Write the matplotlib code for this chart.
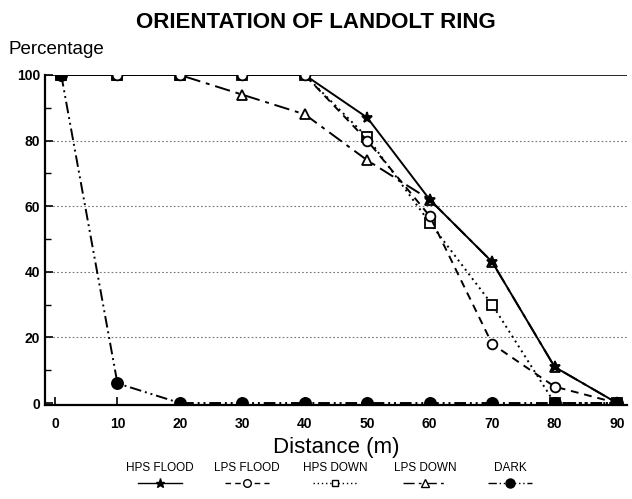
import matplotlib
matplotlib.use("Agg")
import matplotlib.pyplot as plt
from matplotlib.lines import Line2D

# ─── Data ─────────────────────────────────────────────────────────────────────

distance   = [1, 10, 20, 30, 40, 50, 60, 70, 80, 90]
hps_flood  = [100, 100, 100, 100, 100, 87, 62, 43, 11, 0]
lps_flood  = [100, 100, 100, 100, 100, 80, 57, 18, 5, 0]
hps_down   = [100, 100, 100, 100, 100, 81, 55, 30, 0, 0]
lps_down   = [100, 100, 100, 94, 88, 74, 62, 43, 11, 0]
dark       = [100, 6, 0, 0, 0, 0, 0, 0, 0, 0]

series_names = ['HPS FLOOD', 'LPS FLOOD', 'HPS DOWN', 'LPS DOWN', 'DARK']
x_ticks      = [0, 10, 20, 30, 40, 50, 60, 70, 80, 90]
y_ticks      = [0, 20, 40, 60, 80, 100]

# ─── Styles ───────────────────────────────────────────────────────────────────

plt.rcParams['font.family'] = ['Liberation Sans', 'DejaVu Sans']

styles = {
    'HPS FLOOD': dict(ls='-',                     marker='*', mfc='black', ms=8,   z=4),
    'LPS FLOOD': dict(ls=(0, (4, 3)),             marker='o', mfc='white', ms=7,   z=5),
    'HPS DOWN':  dict(ls=(0, (1, 2)),             marker='s', mfc='white', ms=6.5, z=3),
    'LPS DOWN':  dict(ls=(0, (8, 3, 2, 3)),       marker='^', mfc='white', ms=7.5, z=3.5),
    'DARK':      dict(ls=(0, (6, 2, 1, 2, 1, 2)), marker='o', mfc='black', ms=8,   z=6),
}
values = dict(zip(series_names, [hps_flood, lps_flood, hps_down, lps_down, dark]))

fig = plt.figure(figsize=(6.32, 4.99), dpi=100)
ax = fig.add_axes([0.0712, 0.1884, 0.921, 0.6613])

for y in [20, 40, 60, 80]:
    ax.axhline(y, color='#777777', lw=0.8, ls=(0, (1.5, 2)), zorder=1)
ax.axhline(100, color='black', lw=1.2, zorder=1)

for name in series_names:
    st = styles[name]
    ax.plot(distance, values[name], color='black', lw=1.4, ls=st['ls'],
            marker=st['marker'], mfc=st['mfc'], mec='black', mew=1.3,
            ms=st['ms'], zorder=st['z'])

ax.set_xlim(-1.6, 91.6)
ax.set_ylim(-0.6, 100)
ax.set_xticks(x_ticks)
ax.set_yticks(y_ticks)
ax.set_yticks(range(10, 100, 20), minor=True)
ax.tick_params(axis='both', direction='in', length=6, width=1.2,
               labelsize=10)
ax.tick_params(axis='y', which='minor', direction='in', length=4, width=1)
for lab in ax.get_xticklabels() + ax.get_yticklabels():
    lab.set_fontweight('bold')
ax.tick_params(axis='x', pad=9)
for side in ['top', 'right']:
    ax.spines[side].set_visible(False)
for side in ['left', 'bottom']:
    ax.spines[side].set_linewidth(1.6)

ax.set_xlabel('Distance (m)', fontsize=16, labelpad=4)

fig.text(0.5, 0.955, 'ORIENTATION OF LANDOLT RING', ha='center', va='center',
         fontsize=16, fontweight='bold')
fig.text(0.013, 0.9, 'Percentage', ha='left', va='center', fontsize=13.5)

# ─── Legend: text above a short line sample ───────────────────────────────────

legend_x = [0.253, 0.391, 0.53, 0.673, 0.807]
for name, lx in zip(series_names, legend_x):
    st = styles[name]
    fig.text(lx, 0.063, name, ha='center', va='center', fontsize=8.5)
    fig.add_artist(Line2D([lx - 0.035, lx + 0.035], [0.033, 0.033],
                          transform=fig.transFigure, color='black', lw=1,
                          ls=st['ls']))
    fig.add_artist(Line2D([lx], [0.033], transform=fig.transFigure,
                          marker=st['marker'], mfc=st['mfc'], mec='black',
                          ms=st['ms'] - 1.5, mew=1, ls='none'))

fig.savefig('out.png', dpi=100)
